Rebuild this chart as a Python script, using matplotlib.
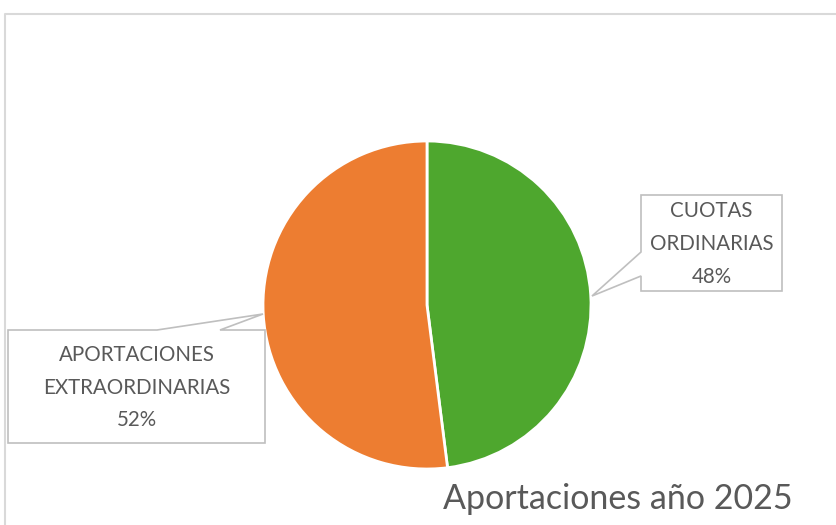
import matplotlib.pyplot as plt
from matplotlib.patches import Polygon

# Datos
categorias = ["CUOTAS\nORDINARIAS", "APORTACIONES\nEXTRAORDINARIAS"]
valores = [48, 52]
colores = ["#4ea72e", "#ed7d31"]
titulo = "Aportaciones año 2025"

W, H = 837, 525
fig = plt.figure(figsize=(W / 100, H / 100), dpi=100)
ax = fig.add_axes([0, 0, 1, 1])
ax.set_xlim(0, W)
ax.set_ylim(0, H)
ax.set_aspect("equal")
ax.axis("off")

def py(y):
    # coordenadas de píxel (arriba-abajo) a coordenadas del eje
    return H - y

# Marco del gráfico
ax.plot([5, 5, W + 5], [py(H + 5), py(14), py(14)], color="#d9d9d9", lw=1.5)

# Pastel
ax.pie(valores, colors=colores, startangle=90, counterclock=False,
       center=(427, py(305)), radius=164,
       wedgeprops=dict(edgecolor="white", linewidth=2))
ax.set_xlim(0, W)
ax.set_ylim(0, H)

# Etiquetas con globo
total = sum(valores)
globos = [
    # caja (x0, y0, x1, y1), cola
    dict(box=(641, 195, 782, 291), tail=[(641, 276), (592, 296), (641, 252)], side="left"),
    dict(box=(8, 330, 265, 443), tail=[(157, 330), (263, 314), (220, 330)], side="top"),
]
for cat, val, g in zip(categorias, valores, globos):
    x0, y0, x1, y1 = g["box"]
    t = g["tail"]
    if g["side"] == "left":
        pts = [(x0, y0), (x1, y0), (x1, y1), (x0, y1), t[0], t[1], t[2]]
    else:
        pts = [(x0, y0), t[0], t[1], t[2], (x1, y0), (x1, y1), (x0, y1)]
    ax.add_patch(Polygon([(x, py(y)) for x, y in pts], closed=True,
                         facecolor="white", edgecolor="#bfbfbf", lw=1.2, zorder=3))
    pct = round(val / total * 100)
    ax.text((x0 + x1) / 2, py((y0 + y1) / 2 + 1), f"{cat}\n{pct}%", ha="center", va="center",
            fontsize=14.8, color="#595959", family="Lato", linespacing=1.8, zorder=4)

# Título
ax.text(618, py(499), titulo, ha="center", va="center", fontsize=24.5,
        color="#595959", family="Lato")

fig.savefig("out.png", dpi=100)
